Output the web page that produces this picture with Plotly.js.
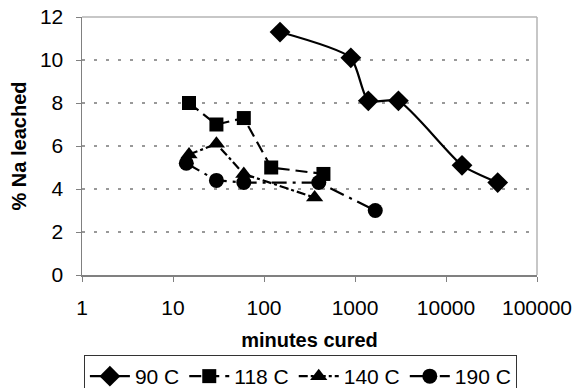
<!DOCTYPE html>
<html>
<head>
<meta charset="utf-8">
<script src="https://cdn.plot.ly/plotly-3.0.1.min.js"></script>
<style>html,body{margin:0;padding:0;background:#fff;}#chart{width:574px;height:388px;}</style>
</head>
<body>
<div id="chart"></div>
<script>
// ---- data ----
const seriesNames = ['90 C', '118 C', '140 C', '190 C'];
const min90 = [150, 900, 1400, 3000, 15000, 37000];
const na90 = [11.3, 10.1, 8.1, 8.1, 5.1, 4.3];
const min118 = [15, 30, 60, 120, 450];
const na118 = [8.0, 7.0, 7.3, 5.0, 4.7];
const min140 = [15, 30, 60, 360];
const na140 = [5.6, 6.1, 4.7, 3.6];
const min190 = [14, 30, 60, 400, 1670];
const na190 = [5.2, 4.4, 4.3, 4.3, 3.0];
const xTickVals = [1, 10, 100, 1000, 10000, 100000];
const xTickText = ['1', '10', '100', '1000', '10000', '100000'];
const yTickVals = [0, 2, 4, 6, 8, 10, 12];

const font = 'Arial, "Liberation Sans", sans-serif';

const traces = [
  {x: min90, y: na90, name: seriesNames[0], mode: 'lines+markers',
   line: {color: '#000', width: 2.2, shape: 'spline', smoothing: 0.6},
   marker: {symbol: 'diamond', size: 16, color: '#000'}},
  {x: min118, y: na118, name: seriesNames[1], mode: 'lines+markers',
   line: {color: '#000', width: 2.2, dash: '12px,6px'},
   marker: {symbol: 'square', size: 14, color: '#000'}},
  {x: min140, y: na140, name: seriesNames[2], mode: 'lines+markers',
   line: {color: '#000', width: 2.2, dash: 'dashdot'},
   marker: {symbol: 'triangle-up', size: 15, color: '#000'}},
  {x: min190, y: na190, name: seriesNames[3], mode: 'lines+markers',
   line: {color: '#000', width: 2.2, dash: 'longdashdot'},
   marker: {symbol: 'circle', size: 15, color: '#000'}}
];

const layout = {
  width: 574, height: 388,
  margin: {l: 82, r: 37, t: 17, b: 113, autoexpand: false},
  paper_bgcolor: '#fff', plot_bgcolor: '#fff',
  font: {family: font, color: '#000', size: 21},
  showlegend: true,
  legend: {orientation: 'h', x: 0.48, xanchor: 'center', y: -0.31, yanchor: 'top',
           bordercolor: '#333', borderwidth: 1, font: {size: 21, family: font},
           itemwidth: 40, tracegroupgap: 0},
  xaxis: {type: 'log', range: [0, 5], tickvals: xTickVals, ticktext: xTickText,
          ticks: 'outside', ticklen: 5, tickcolor: '#808080', tickwidth: 1,
          showline: true, linecolor: '#808080', linewidth: 1.5, automargin: false,
          showgrid: false, zeroline: false, ticklabelstandoff: 8,
          tickfont: {size: 21, family: font},
          title: {text: '<b>minutes cured</b>', font: {size: 20, family: font}, standoff: 15}},
  yaxis: {range: [0, 12], tickvals: yTickVals, automargin: false,
          ticks: 'outside', ticklen: 5, tickcolor: '#808080', tickwidth: 1,
          showline: true, linecolor: '#808080', linewidth: 1.5,
          showgrid: true, gridcolor: '#999', gridwidth: 1.5, griddash: '3px,9px',
          zeroline: false, ticklabelstandoff: 8,
          tickfont: {size: 21, family: font},
          title: {text: '<b>% Na leached</b>', font: {size: 20, family: font}, standoff: 8}},
  shapes: [
    {type: 'line', xref: 'paper', yref: 'paper', x0: 0, x1: 1, y0: 1, y1: 1,
     line: {color: '#b4b4b4', width: 1.5}},
    {type: 'line', xref: 'paper', yref: 'paper', x0: 1, x1: 1, y0: 0, y1: 1,
     line: {color: '#b4b4b4', width: 1.5}}
  ]
};

Plotly.newPlot('chart', traces, layout, {staticPlot: true, displayModeBar: false});
</script>
</body>
</html>
